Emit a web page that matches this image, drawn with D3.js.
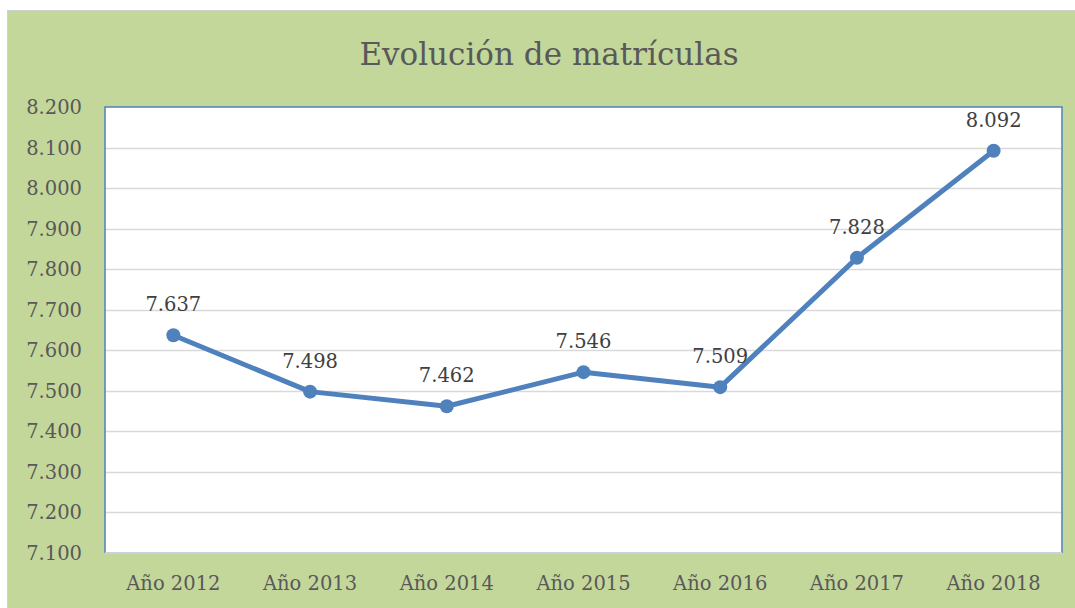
<!DOCTYPE html>
<html>
  <head>
      <meta charset="utf-8">
      <title>Evolución de matrículas</title>
      <script src="https://cdn.jsdelivr.net/npm/d3@7"></script>
      <style>
        body { margin: 0; background: #fff; }
        text { font-family: "DejaVu Serif", serif; }
      </style>
  </head>
  <body>
        <div id="chart"></div>
        <script>
           var years = ["Año 2012","Año 2013","Año 2014","Año 2015","Año 2016","Año 2017","Año 2018"]
           var matriculas = [7637, 7498, 7462, 7546, 7509, 7828, 8092]
           var yTicks = [7100, 7200, 7300, 7400, 7500, 7600, 7700, 7800, 7900, 8000, 8100, 8200]

           var width = 1075, height = 608
           var plotL = 105, plotR = 1062, plotT = 107, plotB = 553

           var fmt = d => {
               var s = String(d)
               return s.slice(0, s.length - 3) + "." + s.slice(-3)
           }

           var svg = d3.select("#chart").append("svg").attr("width", width).attr("height", height)

           // chart area
           svg.append("rect").attr("x", 7.5).attr("y", 10.5).attr("width", width).attr("height", height)
              .attr("fill", "#c4d79b").attr("stroke", "#d0d0d0")

           var x = d3.scaleBand().domain(years).range([plotL, plotR])
           var y = d3.scaleLinear().domain([7100, 8200]).range([plotB, plotT])
           var cx = (d, i) => x(years[i]) + x.bandwidth() / 2

           svg.append("rect").attr("x", plotL).attr("y", plotT).attr("width", plotR - plotL).attr("height", plotB - plotT)
              .attr("fill", "#fff")

           // grid lines
           svg.append("g").selectAll("line").data(yTicks.slice(1, -1)).enter().append("line")
              .attr("x1", plotL).attr("x2", plotR)
              .attr("y1", d => Math.round(y(d)) + 0.5).attr("y2", d => Math.round(y(d)) + 0.5)
              .attr("stroke", "#d9d9d9").attr("stroke-width", 1.5)

           // plot border (blue) and bottom axis
           svg.append("path")
              .attr("d", `M${plotL},${plotB} V${plotT} H${plotR} V${plotB}`)
              .attr("fill", "none").attr("stroke", "#4f81bd").attr("stroke-width", 1.5)
           svg.append("line").attr("x1", plotL).attr("x2", plotR).attr("y1", plotB).attr("y2", plotB)
              .attr("stroke", "#c9d1dc").attr("stroke-width", 2)

           // y axis labels
           svg.append("g").selectAll("text").data(yTicks).enter().append("text")
              .attr("x", 82).attr("y", d => y(d) + 7)
              .attr("text-anchor", "end").attr("font-size", 19.5).attr("fill", "#595959")
              .text(fmt)

           // x axis labels
           svg.append("g").selectAll("text").data(years).enter().append("text")
              .attr("x", d => x(d) + x.bandwidth() / 2).attr("y", 590)
              .attr("text-anchor", "middle").attr("font-size", 19.5).attr("fill", "#595959")
              .text(d => d)

           // title
           svg.append("text").attr("x", 549).attr("y", 65).attr("text-anchor", "middle")
              .attr("font-size", 31).attr("fill", "#595959").text("Evolución de matrículas")

           // line
           var line = d3.line().x(cx).y(d => y(d))
           svg.append("path").datum(matriculas).attr("d", line)
              .attr("fill", "none").attr("stroke", "#4f81bd").attr("stroke-width", 5)
              .attr("stroke-linejoin", "round").attr("stroke-linecap", "round")

           var pts = svg.append("g").selectAll("g").data(matriculas).enter().append("g")
           pts.append("circle")
              .attr("cx", cx).attr("cy", d => y(d))
              .attr("r", 7).attr("fill", "#4f81bd")
           pts.append("text")
              .attr("x", cx).attr("y", d => y(d) - 24)
              .attr("text-anchor", "middle").attr("font-size", 19.5).attr("fill", "#404040")
              .text(fmt)
        </script>
  </body>
</html>
